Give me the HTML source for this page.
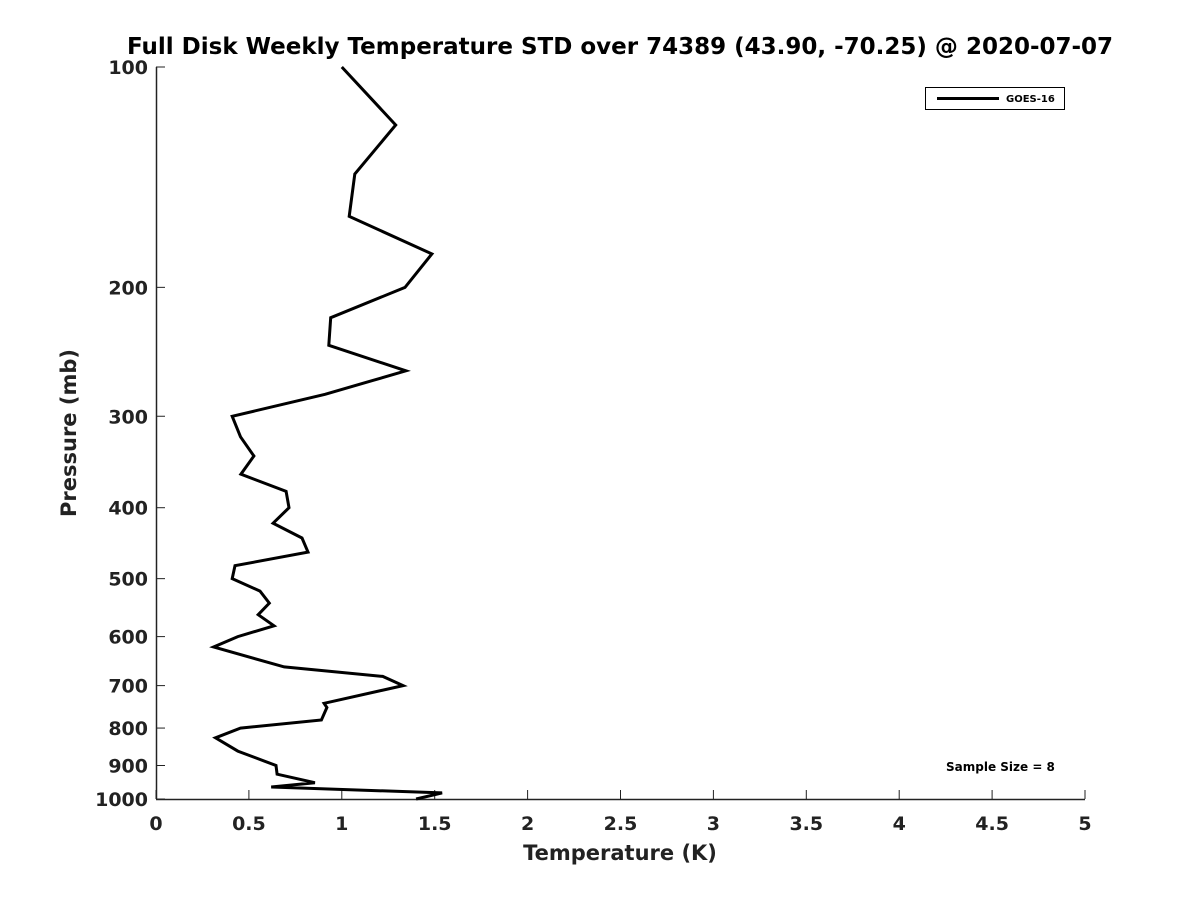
<!DOCTYPE html>
<html><head><meta charset="utf-8"><style>
body{margin:0;background:#fff;font-family:"Liberation Sans","DejaVu Sans",sans-serif}
</style></head><body>
<svg id="chart" width="1200" height="900" xmlns="http://www.w3.org/2000/svg" font-family="DejaVu Sans, Liberation Sans, sans-serif">
<rect width="1200" height="900" fill="#fff"/>
<text x="620" y="54" text-anchor="middle" font-size="23" font-weight="bold" fill="#000">Full Disk Weekly Temperature STD over 74389 (43.90, -70.25) @ 2020-07-07</text>
<g id="axes"></g>
<path id="series" fill="none" stroke="#000" stroke-width="3" stroke-linejoin="miter"/>
<g>
<rect x="925.5" y="87.5" width="139" height="22" fill="#fff" stroke="#000" stroke-width="1"/>
<line x1="937" y1="98.5" x2="999" y2="98.5" stroke="#000" stroke-width="3"/>
<text x="1006" y="102" font-size="10" font-weight="bold">GOES-16</text>
</g>
<text x="946" y="771" font-size="12" font-weight="bold">Sample Size = 8</text>
<text x="620" y="860" text-anchor="middle" font-size="21" font-weight="bold" fill="#222">Temperature (K)</text>
<text transform="translate(76,433) rotate(-90)" text-anchor="middle" font-size="21" font-weight="bold" fill="#222">Pressure (mb)</text>
</svg>
<script>
const temps=[1.0,1.29,1.07,1.04,1.485,1.34,0.94,0.93,1.345,0.91,0.41,0.455,0.527,0.457,0.70,0.716,0.63,0.786,0.818,0.425,0.41,0.56,0.61,0.55,0.635,0.44,0.31,0.69,1.22,1.33,0.905,0.92,0.89,0.455,0.32,0.44,0.646,0.652,0.855,0.62,1.54,1.40];
const pressures=[100,120,140,160,180,200,220,240,260,280,300,320,340,360,380,400,420,440,460,480,500,520,540,560,580,600,620,660,680,700,740,750,780,800,825,860,900,925,950,963,981,1000];
const xTicks=[0,0.5,1,1.5,2,2.5,3,3.5,4,4.5,5];
const xTickLabels=["0","0.5","1","1.5","2","2.5","3","3.5","4","4.5","5"];
const yTicks=[100,200,300,400,500,600,700,800,900,1000];
const L=156,R=1085,T=67,B=799;
const x=v=>L+(v-0)/5*(R-L);
const y=p=>T+Math.log10(p/100)*(B-T);
const NS="http://www.w3.org/2000/svg";
const ax=document.getElementById('axes');
function mk(t,a){const e=document.createElementNS(NS,t);for(const k in a)e.setAttribute(k,a[k]);ax.appendChild(e);return e;}
const xl=mk('line',{x1:L,y1:B+0.5,x2:R,y2:B+0.5,stroke:'#222','stroke-width':1.5});


const yl=mk('line',{x1:L+0.5,y1:T,x2:L+0.5,y2:B,stroke:'#222','stroke-width':1.5});


xTicks.forEach((v,i)=>{
 const t=mk('line',{x1:x(v),y1:B,x2:x(v),y2:B-9,stroke:'#222','stroke-width':1});
 
 
 const s=mk('text',{x:x(v),y:B+31,'text-anchor':'middle','font-size':19,'font-weight':'bold',fill:'#222'});
 s.textContent=xTickLabels[i];
 
 
});
yTicks.forEach(p=>{
 const t=mk('line',{x1:L,y1:y(p),x2:L+9,y2:y(p),stroke:'#222','stroke-width':1});
 
 
 const s=mk('text',{x:L-8,y:y(p)+7,'text-anchor':'end','font-size':19,'font-weight':'bold',fill:'#222'});
 s.textContent=String(p);
 
 
});
document.getElementById('series').setAttribute('d',temps.map((t,i)=>(i?'L':'M')+x(t).toFixed(1)+' '+y(pressures[i]).toFixed(1)).join(' '));
</script>
</body></html>
